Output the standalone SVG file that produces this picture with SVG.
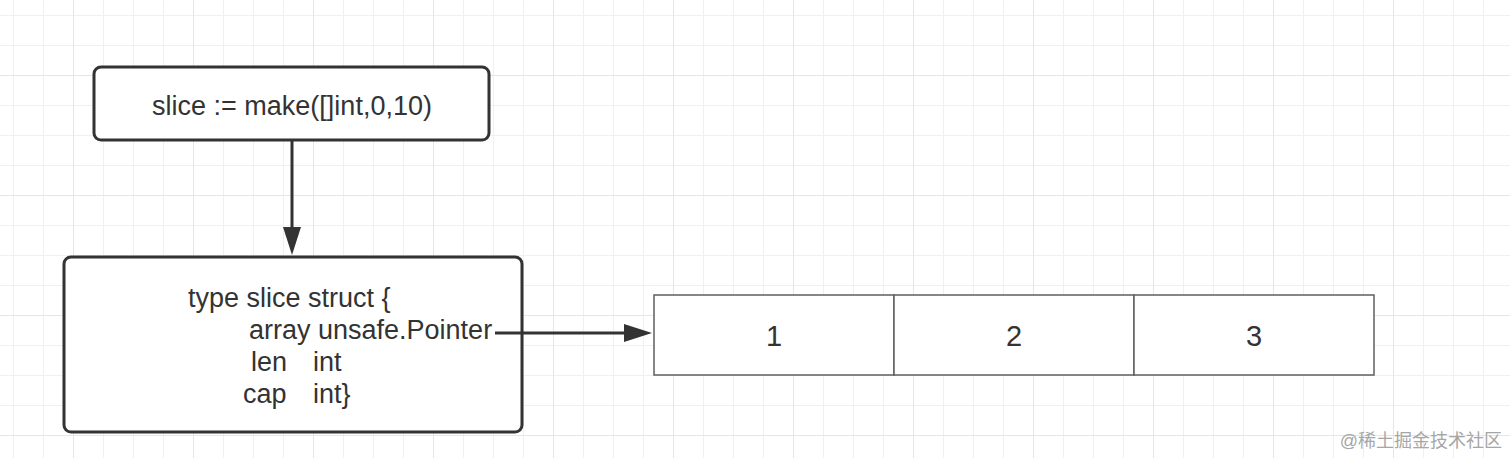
<svg xmlns="http://www.w3.org/2000/svg" width="1510" height="458" viewBox="0 0 1510 458">
  <style>
    .box { fill: #ffffff; stroke: #333333; stroke-width: 3; }
    .cell { fill: #ffffff; stroke: #5f5f5f; stroke-width: 1.5; }
    .txt { font-family: "Liberation Sans", Arial, sans-serif; font-size: 27px; fill: #333333; }
    .num { font-family: "Liberation Sans", Arial, sans-serif; font-size: 29px; fill: #333333; text-anchor: middle; }
    .edge { fill: none; stroke: #333333; stroke-width: 3; }
    .wm { font-family: "Liberation Sans", "Noto Sans CJK SC", sans-serif; font-size: 18px; fill: #a6a6a6; text-anchor: end; }
  </style>
  <defs>
    <pattern id="gridMinor" width="30" height="30" x="13" y="15" patternUnits="userSpaceOnUse">
      <path d="M0.5 0V30M0 0.5H30" fill="none" stroke="#f0f0f0" stroke-width="1"/>
    </pattern>
    <pattern id="gridMajor" width="120" height="120" x="73" y="75" patternUnits="userSpaceOnUse">
      <path d="M0.5 0V120M0 0.5H120" fill="none" stroke="#e6e6e6" stroke-width="1"/>
    </pattern>
    <marker id="arrow" markerUnits="userSpaceOnUse" markerWidth="28" markerHeight="18" refX="3" refY="9" orient="auto">
      <path d="M0 0L28 9L0 18z" fill="#333333"/>
    </marker>
  </defs>

  <rect x="0" y="0" width="1510" height="458" fill="#ffffff"/>
  <rect x="0" y="0" width="1510" height="458" fill="url(#gridMinor)"/>
  <rect x="0" y="0" width="1510" height="458" fill="url(#gridMajor)"/>

  <g id="connectors">
    <line class="edge" x1="292" y1="141" x2="292" y2="230" marker-end="url(#arrow)"/>
    <line class="edge" x1="495" y1="333" x2="627" y2="333" marker-end="url(#arrow)"/>
  </g>

  <g id="node-make">
    <rect class="box" x="94" y="67" width="395" height="73" rx="7" ry="7"/>
    <text class="txt" x="292" y="115" text-anchor="middle">slice := make([]int,0,10)</text>
  </g>

  <g id="node-struct">
    <rect class="box" x="64" y="257" width="458" height="175" rx="7" ry="7"/>
    <text class="txt" x="188" y="307">type slice struct {</text>
    <text class="txt" x="249" y="339">array unsafe.Pointer</text>
    <text class="txt" y="371"><tspan x="251">len</tspan><tspan x="313">int</tspan></text>
    <text class="txt" y="403"><tspan x="243">cap</tspan><tspan x="313">int}</tspan></text>
  </g>
  <line class="edge" x1="495" y1="333" x2="522" y2="333"/>

  <g id="node-array">
    <rect class="cell" x="654" y="295" width="240" height="80"/>
    <rect class="cell" x="894" y="295" width="240" height="80"/>
    <rect class="cell" x="1134" y="295" width="240" height="80"/>
    <text class="num" x="774" y="346">1</text>
    <text class="num" x="1014" y="346">2</text>
    <text class="num" x="1254" y="346">3</text>
  </g>

  <text class="wm" x="1502" y="447">@稀土掘金技术社区</text>
</svg>
